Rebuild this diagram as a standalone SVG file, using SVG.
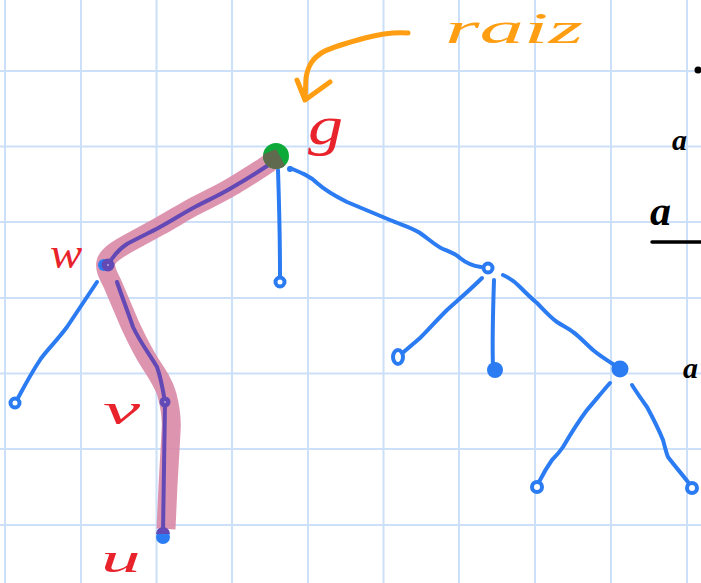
<svg xmlns="http://www.w3.org/2000/svg" width="701" height="583" viewBox="0 0 701 583">
<style>
.grid line{stroke:#CCE0FA;stroke-width:2}
.edge{fill:none;stroke:#2B7BF2;stroke-width:4;stroke-linecap:round;stroke-linejoin:round}
.ring{fill:#fff;stroke:#2B7BF2;stroke-width:4}
.dot{fill:#2B7BF2}
.hl{fill:none;stroke:#D98AA6;stroke-opacity:0.9;stroke-width:19;stroke-linejoin:round;stroke-linecap:butt}
.pp{fill:none;stroke:#6249B5;stroke-width:4;stroke-linecap:round;stroke-linejoin:round}
.lbl{font-family:"Liberation Serif",serif;font-style:italic;fill:#E8232B}
.note{font-family:"Liberation Serif",serif;font-style:italic;fill:#FF9E12}
.blk{font-family:"Liberation Serif",serif;font-style:italic;font-weight:bold;fill:#000}
</style>
<defs>
<clipPath id="gclip"><circle cx="276" cy="156" r="13"/></clipPath>
</defs>
<rect width="701" height="583" fill="#fff"/>
<g class="grid">
<line x1="5" y1="0" x2="5" y2="583"/><line x1="81" y1="0" x2="81" y2="583"/><line x1="156.5" y1="0" x2="156.5" y2="583"/><line x1="232" y1="0" x2="232" y2="583"/><line x1="308" y1="0" x2="308" y2="583"/><line x1="383.5" y1="0" x2="383.5" y2="583"/><line x1="459" y1="0" x2="459" y2="583"/><line x1="535" y1="0" x2="535" y2="583"/><line x1="611" y1="0" x2="611" y2="583"/><line x1="687" y1="0" x2="687" y2="583"/>
<line x1="0" y1="71" x2="701" y2="71"/><line x1="0" y1="146.5" x2="701" y2="146.5"/><line x1="0" y1="222" x2="701" y2="222"/><line x1="0" y1="298" x2="701" y2="298"/><line x1="0" y1="373.5" x2="701" y2="373.5"/><line x1="0" y1="449" x2="701" y2="449"/><line x1="0" y1="525" x2="701" y2="525"/>
</g>
<g id="connectors">
<path class="edge" d="M290,168 C300,172 310,176 317,183 C327,192 337,197 347,202 L390,220 C402,225 413,228 420,233 C430,240 436,246 443,249 C450,252 456,254 460,258 C466,263 474,266 481,267"/>
<path class="edge" d="M278,170 C279,200 280,240 280,276"/>
<path class="edge" d="M97,282 C85,300 75,315 67,327 C55,343 45,352 40,360 C32,372 26,383 18,398"/>
<path class="edge" d="M482,278 C470,290 458,300 447,310 C435,322 428,330 420,338 C412,345 406,350 400,355"/>
<path class="edge" d="M494,280 C493,310 492,340 493,367"/>
<path class="edge" d="M503,275 C510,278 515,282 520,287 C527,294 532,299 537,303 C544,310 550,317 557,322 C563,326 568,328 573,332 C580,337 586,344 593,350 C600,356 607,360 613,364"/>
<path class="edge" d="M610,383 C602,392 594,402 587,410 C578,422 570,435 563,447 C559,453 556,456 552,460 C547,467 543,474 539,482"/>
<path class="edge" d="M632,385 C637,393 642,400 647,407 C654,420 659,430 663,440 C665,447 666,452 668,457 C674,465 681,473 688,482"/>
<path class="hl" d="M272,161 C260,170 246,178 233,186 C220,194 206,200 193,207 C182,213 171,220 160,226 C149,232 138,238 127,244 C118,249 108,255 106,262 C104,270 110,278 113,285 L130,325 C137,340 143,352 150,363 C158,375 164,384 167,395 C171,410 172,420 171,432 C170,450 169,470 168,485 L166,529"/>
<path class="pp" d="M270,164 C258,172 245,180 233,187 C220,195 206,201 193,208 C182,214 171,221 160,227 C149,233 138,238 127,244 C119,249 112,258 108,265"/>
<path class="pp" d="M117,282 C122,297 128,312 133,327 C140,342 150,355 157,367 C161,378 163,390 165,402 L163,533"/>
</g>
<g id="node-g">
<circle cx="276" cy="156" r="13" fill="#0DAA3A"/>
<polygon points="257,157 276,149 288,171 261,180" fill="#5F6A4E" clip-path="url(#gclip)"/>
<circle cx="290" cy="169" r="3" class="dot"/>
</g>
<g id="node-w">
<circle cx="104" cy="265" r="6" class="dot"/>
<circle cx="108" cy="265" r="6.5" fill="#6249B5"/>
<circle cx="108" cy="265" r="1" fill="#B8A8E0"/>
</g>
<g id="node-v">
<circle cx="165" cy="402" r="5.5" fill="#6249B5"/>
<circle cx="165" cy="402" r="1" fill="#B8A8E0"/>
</g>
<g id="node-u">
<circle cx="163" cy="537" r="7" class="dot"/>
<path d="M156,534 A7,7 0 0 1 170,534 Z" fill="#6249B5"/>
</g>
<g id="leaf-g"><circle cx="280" cy="282" r="4.5" class="ring"/></g>
<g id="leaf-w"><circle cx="15" cy="403" r="4.5" class="ring"/></g>
<g id="node-m"><circle cx="488" cy="268" r="4.5" class="ring" stroke-width="3.5"/></g>
<g id="leaf-m1"><ellipse cx="398" cy="357" rx="5" ry="7" class="ring" stroke-width="4"/></g>
<g id="leaf-m2"><circle cx="495" cy="370" r="8" class="dot"/></g>
<g id="node-n"><circle cx="620" cy="369" r="8.5" class="dot"/></g>
<g id="leaf-n1"><circle cx="537" cy="487" r="5" class="ring"/></g>
<g id="leaf-n2"><circle cx="692" cy="488" r="5" class="ring"/></g>
<g id="labels">
<text class="lbl" x="0" y="0" font-size="54" transform="translate(308,144) scale(1.3,1)">g</text>
<text class="lbl" x="0" y="0" font-size="44" transform="translate(50,268) scale(1.1,1)">w</text>
<text class="lbl" x="0" y="0" font-size="44" transform="translate(103,424) scale(1.9,1)">v</text>
<text class="lbl" x="0" y="0" font-size="36" transform="translate(101,572) scale(2.2,1.1)">u</text>
</g>
<g id="raiz">
<text class="note" x="445" y="43" font-size="44" textLength="138" lengthAdjust="spacingAndGlyphs">raiz</text>
<path d="M408,33 C395,32 380,34 365,38 C350,42 335,46 323,52 C313,58 308,65 306,78 L305,100 M297,80 L305,100 L330,82" fill="none" stroke="#FF9E12" stroke-width="5" stroke-linecap="round" stroke-linejoin="round"/>
</g>
<g id="margin">
<circle cx="698" cy="70" r="3.5" fill="#000"/>
<text class="blk" x="672" y="150" font-size="30">a</text>
<text class="blk" x="650" y="225" font-size="42">a</text>
<line x1="652" y1="242" x2="701" y2="242" stroke="#000" stroke-width="3.5" stroke-linecap="round"/>
<text class="blk" x="683" y="378" font-size="30">a</text>
</g>
</svg>
